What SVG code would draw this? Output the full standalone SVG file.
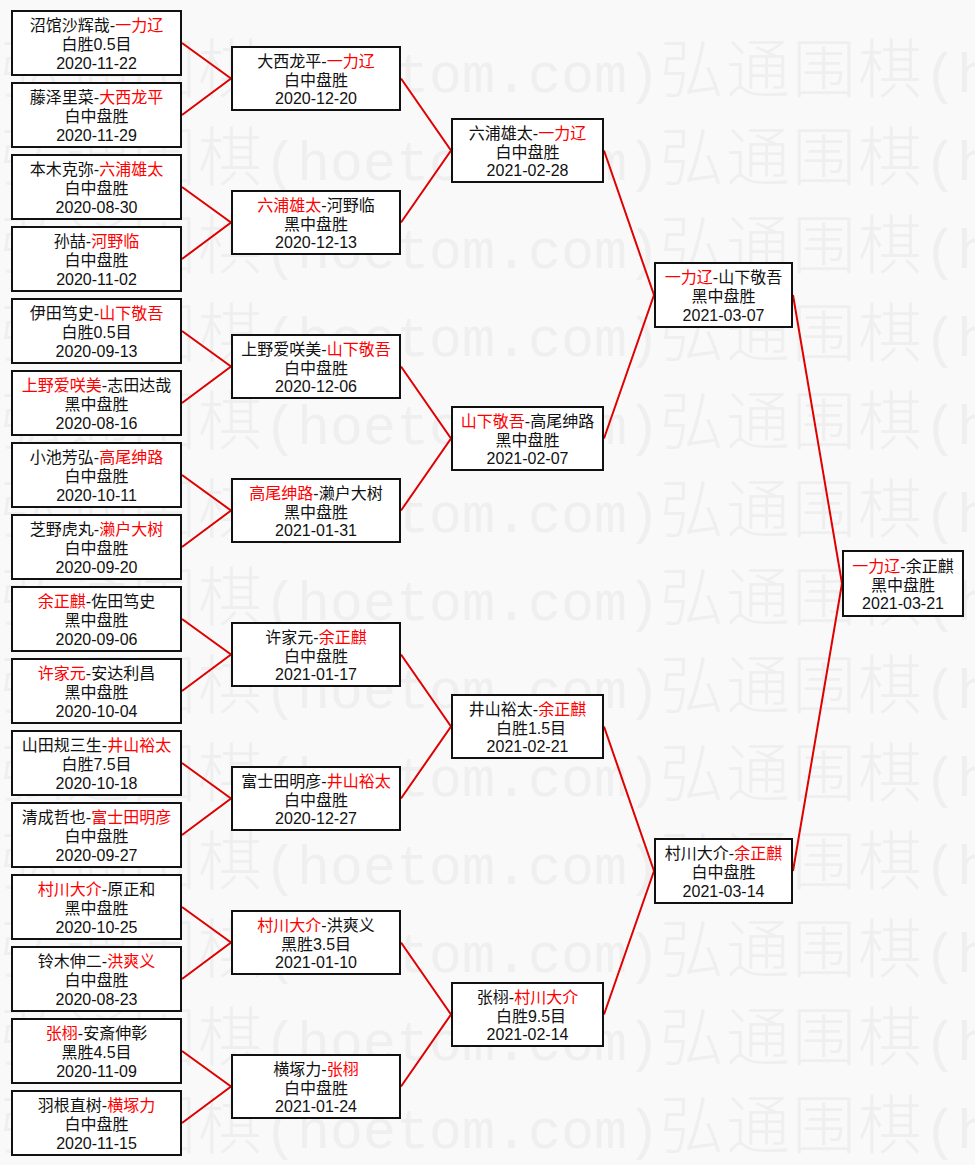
<svg xmlns="http://www.w3.org/2000/svg" xmlns:xlink="http://www.w3.org/1999/xlink" width="975" height="1165" viewBox="0 0 975 1165">
<style>
.bg{fill:#f9f9f9}
.wm{fill:#efefef}
.wmc{font-family:"Noto Sans CJK SC","Noto Sans CJK JP",sans-serif;font-size:64px;font-weight:300;letter-spacing:2px}
.wml{font-family:"Liberation Mono","DejaVu Sans Mono",monospace;font-size:55px}
.box{fill:#ffffff;stroke:#111111;stroke-width:2}
.t{font-family:"Liberation Sans","Noto Sans CJK SC","Noto Sans CJK JP",sans-serif;font-size:16px;fill:#111111;text-anchor:middle}
.r{fill:#ff0000}
.c{fill:none;stroke:#e00000;stroke-width:2;stroke-linejoin:miter}
</style>
<defs>
<text id="wm" class="wm" y="0"><tspan class="wmc" x="0">弘通围棋</tspan><tspan class="wml" x="264">(hoetom.com)</tspan><tspan class="wmc" x="660">弘通围棋</tspan><tspan class="wml" x="924">(h</tspan></text>
</defs>
<rect class="bg" x="0" y="0" width="975" height="1165"/>
<g id="watermark">
<use xlink:href="#wm" href="#wm" y="92"/>
<use xlink:href="#wm" href="#wm" y="180"/>
<use xlink:href="#wm" href="#wm" y="268"/>
<use xlink:href="#wm" href="#wm" y="356"/>
<use xlink:href="#wm" href="#wm" y="444"/>
<use xlink:href="#wm" href="#wm" y="532"/>
<use xlink:href="#wm" href="#wm" y="620"/>
<use xlink:href="#wm" href="#wm" y="708"/>
<use xlink:href="#wm" href="#wm" y="796"/>
<use xlink:href="#wm" href="#wm" y="884"/>
<use xlink:href="#wm" href="#wm" y="972"/>
<use xlink:href="#wm" href="#wm" y="1060"/>
<use xlink:href="#wm" href="#wm" y="1148"/>
</g>
<g id="connectors">
<polyline class="c" points="182,43 231,78.5 182,115"/>
<polyline class="c" points="182,187 231,222.5 182,259"/>
<polyline class="c" points="182,331 231,366.5 182,403"/>
<polyline class="c" points="182,475 231,510.5 182,547"/>
<polyline class="c" points="182,619 231,654.5 182,691"/>
<polyline class="c" points="182,763 231,798.5 182,835"/>
<polyline class="c" points="182,907 231,942.5 182,979"/>
<polyline class="c" points="182,1051 231,1086.5 182,1123"/>
<polyline class="c" points="401,78.5 451,150.5 401,222.5"/>
<polyline class="c" points="401,366.5 451,438.5 401,510.5"/>
<polyline class="c" points="401,654.5 451,726.5 401,798.5"/>
<polyline class="c" points="401,942.5 451,1014.5 401,1086.5"/>
<polyline class="c" points="604,150.5 654,295 604,438.5"/>
<polyline class="c" points="604,726.5 654,871 604,1014.5"/>
<polyline class="c" points="793,295 842,583.5 793,871"/>
</g>
<g id="r1-1"><rect class="box" x="12" y="11" width="169" height="64"/><text class="t" x="96.5" y="31">沼馆沙辉哉-<tspan class="r">一力辽</tspan></text><text class="t" x="96.5" y="50">白胜0.5目</text><text class="t" x="96.5" y="68.5">2020-11-22</text></g>
<g id="r1-2"><rect class="box" x="12" y="83" width="169" height="64"/><text class="t" x="96.5" y="103">藤泽里菜-<tspan class="r">大西龙平</tspan></text><text class="t" x="96.5" y="122">白中盘胜</text><text class="t" x="96.5" y="140.5">2020-11-29</text></g>
<g id="r1-3"><rect class="box" x="12" y="155" width="169" height="64"/><text class="t" x="96.5" y="175">本木克弥-<tspan class="r">六浦雄太</tspan></text><text class="t" x="96.5" y="194">白中盘胜</text><text class="t" x="96.5" y="212.5">2020-08-30</text></g>
<g id="r1-4"><rect class="box" x="12" y="227" width="169" height="64"/><text class="t" x="96.5" y="247">孙喆-<tspan class="r">河野临</tspan></text><text class="t" x="96.5" y="266">白中盘胜</text><text class="t" x="96.5" y="284.5">2020-11-02</text></g>
<g id="r1-5"><rect class="box" x="12" y="299" width="169" height="64"/><text class="t" x="96.5" y="319">伊田笃史-<tspan class="r">山下敬吾</tspan></text><text class="t" x="96.5" y="338">白胜0.5目</text><text class="t" x="96.5" y="356.5">2020-09-13</text></g>
<g id="r1-6"><rect class="box" x="12" y="371" width="169" height="64"/><text class="t" x="96.5" y="391"><tspan class="r">上野爱咲美</tspan>-志田达哉</text><text class="t" x="96.5" y="410">黑中盘胜</text><text class="t" x="96.5" y="428.5">2020-08-16</text></g>
<g id="r1-7"><rect class="box" x="12" y="443" width="169" height="64"/><text class="t" x="96.5" y="463">小池芳弘-<tspan class="r">高尾绅路</tspan></text><text class="t" x="96.5" y="482">白中盘胜</text><text class="t" x="96.5" y="500.5">2020-10-11</text></g>
<g id="r1-8"><rect class="box" x="12" y="515" width="169" height="64"/><text class="t" x="96.5" y="535">芝野虎丸-<tspan class="r">濑户大树</tspan></text><text class="t" x="96.5" y="554">白中盘胜</text><text class="t" x="96.5" y="572.5">2020-09-20</text></g>
<g id="r1-9"><rect class="box" x="12" y="587" width="169" height="64"/><text class="t" x="96.5" y="607"><tspan class="r">余正麒</tspan>-佐田笃史</text><text class="t" x="96.5" y="626">黑中盘胜</text><text class="t" x="96.5" y="644.5">2020-09-06</text></g>
<g id="r1-10"><rect class="box" x="12" y="659" width="169" height="64"/><text class="t" x="96.5" y="679"><tspan class="r">许家元</tspan>-安达利昌</text><text class="t" x="96.5" y="698">黑中盘胜</text><text class="t" x="96.5" y="716.5">2020-10-04</text></g>
<g id="r1-11"><rect class="box" x="12" y="731" width="169" height="64"/><text class="t" x="96.5" y="751">山田规三生-<tspan class="r">井山裕太</tspan></text><text class="t" x="96.5" y="770">白胜7.5目</text><text class="t" x="96.5" y="788.5">2020-10-18</text></g>
<g id="r1-12"><rect class="box" x="12" y="803" width="169" height="64"/><text class="t" x="96.5" y="823">清成哲也-<tspan class="r">富士田明彦</tspan></text><text class="t" x="96.5" y="842">白中盘胜</text><text class="t" x="96.5" y="860.5">2020-09-27</text></g>
<g id="r1-13"><rect class="box" x="12" y="875" width="169" height="64"/><text class="t" x="96.5" y="895"><tspan class="r">村川大介</tspan>-原正和</text><text class="t" x="96.5" y="914">黑中盘胜</text><text class="t" x="96.5" y="932.5">2020-10-25</text></g>
<g id="r1-14"><rect class="box" x="12" y="947" width="169" height="64"/><text class="t" x="96.5" y="967">铃木伸二-<tspan class="r">洪爽义</tspan></text><text class="t" x="96.5" y="986">白中盘胜</text><text class="t" x="96.5" y="1004.5">2020-08-23</text></g>
<g id="r1-15"><rect class="box" x="12" y="1019" width="169" height="64"/><text class="t" x="96.5" y="1039"><tspan class="r">张栩</tspan>-安斎伸彰</text><text class="t" x="96.5" y="1058">黑胜4.5目</text><text class="t" x="96.5" y="1076.5">2020-11-09</text></g>
<g id="r1-16"><rect class="box" x="12" y="1091" width="169" height="64"/><text class="t" x="96.5" y="1111">羽根直树-<tspan class="r">横塚力</tspan></text><text class="t" x="96.5" y="1130">白中盘胜</text><text class="t" x="96.5" y="1148.5">2020-11-15</text></g>
<g id="r2-1"><rect class="box" x="232" y="47" width="168" height="63"/><text class="t" x="316" y="66.5">大西龙平-<tspan class="r">一力辽</tspan></text><text class="t" x="316" y="85.5">白中盘胜</text><text class="t" x="316" y="104">2020-12-20</text></g>
<g id="r2-2"><rect class="box" x="232" y="191" width="168" height="63"/><text class="t" x="316" y="210.5"><tspan class="r">六浦雄太</tspan>-河野临</text><text class="t" x="316" y="229.5">黑中盘胜</text><text class="t" x="316" y="248">2020-12-13</text></g>
<g id="r2-3"><rect class="box" x="232" y="335" width="168" height="63"/><text class="t" x="316" y="354.5">上野爱咲美-<tspan class="r">山下敬吾</tspan></text><text class="t" x="316" y="373.5">白中盘胜</text><text class="t" x="316" y="392">2020-12-06</text></g>
<g id="r2-4"><rect class="box" x="232" y="479" width="168" height="63"/><text class="t" x="316" y="498.5"><tspan class="r">高尾绅路</tspan>-濑户大树</text><text class="t" x="316" y="517.5">黑中盘胜</text><text class="t" x="316" y="536">2021-01-31</text></g>
<g id="r2-5"><rect class="box" x="232" y="623" width="168" height="63"/><text class="t" x="316" y="642.5">许家元-<tspan class="r">余正麒</tspan></text><text class="t" x="316" y="661.5">白中盘胜</text><text class="t" x="316" y="680">2021-01-17</text></g>
<g id="r2-6"><rect class="box" x="232" y="767" width="168" height="63"/><text class="t" x="316" y="786.5">富士田明彦-<tspan class="r">井山裕太</tspan></text><text class="t" x="316" y="805.5">白中盘胜</text><text class="t" x="316" y="824">2020-12-27</text></g>
<g id="r2-7"><rect class="box" x="232" y="911" width="168" height="63"/><text class="t" x="316" y="930.5"><tspan class="r">村川大介</tspan>-洪爽义</text><text class="t" x="316" y="949.5">黑胜3.5目</text><text class="t" x="316" y="968">2021-01-10</text></g>
<g id="r2-8"><rect class="box" x="232" y="1055" width="168" height="63"/><text class="t" x="316" y="1074.5">横塚力-<tspan class="r">张栩</tspan></text><text class="t" x="316" y="1093.5">白中盘胜</text><text class="t" x="316" y="1112">2021-01-24</text></g>
<g id="r3-1"><rect class="box" x="452" y="119" width="151" height="63"/><text class="t" x="527.5" y="138.5">六浦雄太-<tspan class="r">一力辽</tspan></text><text class="t" x="527.5" y="157.5">白中盘胜</text><text class="t" x="527.5" y="176">2021-02-28</text></g>
<g id="r3-2"><rect class="box" x="452" y="407" width="151" height="63"/><text class="t" x="527.5" y="426.5"><tspan class="r">山下敬吾</tspan>-高尾绅路</text><text class="t" x="527.5" y="445.5">黑中盘胜</text><text class="t" x="527.5" y="464">2021-02-07</text></g>
<g id="r3-3"><rect class="box" x="452" y="695" width="151" height="63"/><text class="t" x="527.5" y="714.5">井山裕太-<tspan class="r">余正麒</tspan></text><text class="t" x="531" y="733.5">白胜1.5目</text><text class="t" x="527.5" y="752">2021-02-21</text></g>
<g id="r3-4"><rect class="box" x="452" y="983" width="151" height="63"/><text class="t" x="527.5" y="1002.5">张栩-<tspan class="r">村川大介</tspan></text><text class="t" x="531" y="1021.5">白胜9.5目</text><text class="t" x="527.5" y="1040">2021-02-14</text></g>
<g id="r4-1"><rect class="box" x="655" y="263" width="137" height="64"/><text class="t" x="723.5" y="283"><tspan class="r">一力辽</tspan>-山下敬吾</text><text class="t" x="723.5" y="302">黑中盘胜</text><text class="t" x="723.5" y="320.5">2021-03-07</text></g>
<g id="r4-2"><rect class="box" x="655" y="839" width="137" height="64"/><text class="t" x="723.5" y="859">村川大介-<tspan class="r">余正麒</tspan></text><text class="t" x="723.5" y="878">白中盘胜</text><text class="t" x="723.5" y="896.5">2021-03-14</text></g>
<g id="r5-1"><rect class="box" x="843" y="551" width="120" height="65"/><text class="t" x="903" y="571.5"><tspan class="r">一力辽</tspan>-余正麒</text><text class="t" x="903" y="590.5">黑中盘胜</text><text class="t" x="903" y="609">2021-03-21</text></g>
</svg>
